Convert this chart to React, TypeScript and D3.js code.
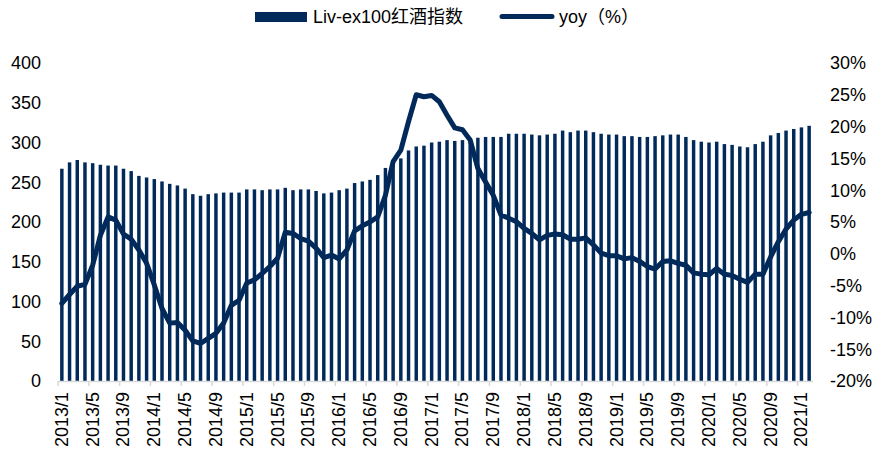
import React, { useEffect, useRef } from 'react';
import * as d3 from 'd3';

// monthly categories 2013/1 .. 2021/2
const months: string[] = [];
for (let y = 2013; y <= 2021; y++) {
  for (let m = 1; m <= 12; m++) {
    if (y === 2021 && m > 2) break;
    months.push(y + '/' + m);
  }
}

const indexValues = [
  267, 275, 278, 275, 274, 272, 271, 271, 267, 264, 258, 256,
  254, 251, 248, 246, 242, 235, 233, 235, 236, 237, 237, 237,
  241, 241, 240, 241, 241, 243, 240, 241, 241, 239, 236, 237,
  240, 242, 249, 251, 253, 259, 268, 278, 280, 290, 295, 296,
  300, 301, 303, 302, 303, 304, 306, 307, 307, 307, 311, 311,
  311, 310, 309, 310, 311, 315, 313, 315, 315, 313, 311, 310,
  310, 308, 308, 307, 307, 308, 309, 310, 310, 307, 303, 301,
  300, 301, 298, 297, 295, 294, 298, 301, 309, 312, 315, 317,
  319, 321,
];

const yoyValues = [
  -7.8, -6.4, -5.1, -4.8, -1.8, 2.9, 5.8, 5.3, 3.1, 2.3, 0.6, -1.5,
  -4.9, -8.6, -10.9, -10.8, -12.0, -13.7, -14.1, -13.3, -12.5, -10.9, -8.1, -7.3,
  -4.6, -4.1, -3.1, -2.0, -0.7, 3.4, 3.2, 2.4, 2.0, 0.9, -0.6, -0.2,
  -0.8, 0.6, 3.6, 4.4, 5.0, 5.8, 9.2, 14.5, 16.3, 20.8, 25.0, 24.7,
  24.9, 23.9, 21.8, 19.8, 19.5, 17.9, 13.4, 11.3, 9.2, 6.1, 5.6, 5.05,
  4.0, 3.2, 2.2, 2.9, 3.1, 3.0, 2.3, 2.3, 2.5, 1.4, 0.1, -0.3,
  -0.3, -0.8, -0.6, -1.2, -2.0, -2.4, -1.2, -1.1, -1.5, -1.8, -3.0, -3.2,
  -3.3, -2.3, -3.2, -3.4, -4.0, -4.5, -3.2, -3.2, -0.5, 1.9, 3.9, 5.3,
  6.2, 6.5,
];

const xTickLabels = [
  '2013/1', '2013/5', '2013/9', '2014/1', '2014/5', '2014/9', '2015/1', '2015/5',
  '2015/9', '2016/1', '2016/5', '2016/9', '2017/1', '2017/5', '2017/9', '2018/1',
  '2018/5', '2018/9', '2019/1', '2019/5', '2019/9', '2020/1', '2020/5', '2020/9', '2021/1',
];
const leftTicks = [0, 50, 100, 150, 200, 250, 300, 350, 400];
const rightTicks = [-20, -15, -10, -5, 0, 5, 10, 15, 20, 25, 30];

const seriesNames = ['Liv-ex100红酒指数', 'yoy（%）'];

const NAVY = '#012a5b';
const FONT = 'Arial, "Liberation Sans", "Noto Sans CJK SC", sans-serif';
const FS = 18;

export default function App() {
  const ref = useRef<SVGSVGElement>(null);

  useEffect(() => {
    const svg = d3.select(ref.current);
    svg.selectAll('*').remove();

    const left = 58, right = 813, top = 63, bottom = 381;

    const x = d3.scaleBand().domain(months).range([left, right]).paddingInner(0.55).paddingOuter(0.275);
    const xb = d3.scaleBand().domain(months).range([left, right]);
    const yL = d3.scaleLinear().domain([0, 400]).range([bottom, top]);
    const yR = d3.scaleLinear().domain([-20, 30]).range([bottom, top]);

    // bars
    svg.append('g')
      .selectAll('rect')
      .data(indexValues)
      .join('rect')
      .attr('x', (d, i) => x(months[i])!)
      .attr('width', x.bandwidth())
      .attr('y', d => yL(d))
      .attr('height', d => bottom - yL(d))
      .attr('fill', NAVY);

    // x axis
    svg.append('line')
      .attr('x1', left).attr('x2', right)
      .attr('y1', bottom + 0.5).attr('y2', bottom + 0.5)
      .attr('stroke', '#d9d9d9').attr('stroke-width', 1.5);

    const tg = svg.append('g');
    xTickLabels.forEach(lbl => {
      const bx = xb(lbl)!;
      tg.append('line')
        .attr('x1', bx).attr('x2', bx)
        .attr('y1', bottom).attr('y2', bottom + 5)
        .attr('stroke', '#d9d9d9').attr('stroke-width', 1.5);
      tg.append('text')
        .attr('transform', `translate(${bx + 3.5},392) rotate(-90)`)
        .attr('text-anchor', 'end')
        .attr('dy', '0.35em')
        .attr('font-size', FS)
        .attr('font-family', FONT)
        .attr('fill', '#000')
        .text(lbl);
    });

    // left axis labels
    svg.append('g')
      .selectAll('text')
      .data(leftTicks)
      .join('text')
      .attr('x', 41)
      .attr('y', d => yL(d))
      .attr('dy', '0.35em')
      .attr('text-anchor', 'end')
      .attr('font-size', FS)
      .attr('font-family', FONT)
      .text(d => d);

    // right axis labels
    svg.append('g')
      .selectAll('text')
      .data(rightTicks)
      .join('text')
      .attr('x', 830)
      .attr('y', d => yR(d))
      .attr('dy', '0.35em')
      .attr('font-size', FS)
      .attr('font-family', FONT)
      .text(d => d + '%');

    // yoy line
    const line = d3.line<number>()
      .x((d, i) => x(months[i])! + x.bandwidth() / 2)
      .y(d => yR(d))
      .curve(d3.curveLinear);

    svg.append('path')
      .datum(yoyValues)
      .attr('d', line)
      .attr('fill', 'none')
      .attr('stroke', NAVY)
      .attr('stroke-width', 5)
      .attr('stroke-linejoin', 'round')
      .attr('stroke-linecap', 'round');

    // legend
    const lg = svg.append('g');
    lg.append('rect')
      .attr('x', 255).attr('y', 12).attr('width', 52).attr('height', 10)
      .attr('fill', NAVY);
    lg.append('text')
      .attr('x', 313).attr('y', 17).attr('dy', '0.35em')
      .attr('font-size', FS).attr('font-family', FONT)
      .text(seriesNames[0]);
    lg.append('line')
      .attr('x1', 502).attr('x2', 552).attr('y1', 16.5).attr('y2', 16.5)
      .attr('stroke', NAVY).attr('stroke-width', 5).attr('stroke-linecap', 'round');
    lg.append('text')
      .attr('x', 559).attr('y', 17).attr('dy', '0.35em')
      .attr('font-size', FS).attr('font-family', FONT)
      .text(seriesNames[1]);
  }, []);

  return (
    <svg
      ref={ref}
      width={887}
      height={452}
      style={{ position: 'absolute', left: 0, top: 0, background: '#fff' }}
    />
  );
}
